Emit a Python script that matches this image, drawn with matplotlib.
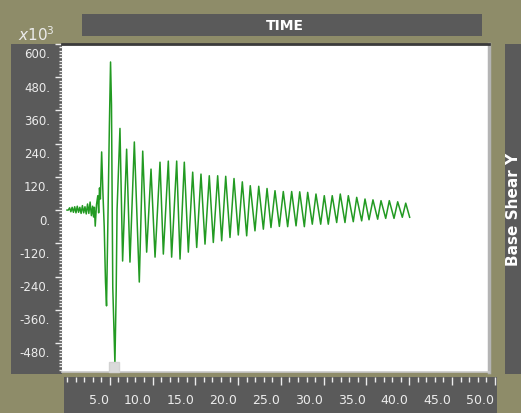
import matplotlib
matplotlib.use("Agg")
import matplotlib.pyplot as plt
from matplotlib.patches import Rectangle
from matplotlib.transforms import offset_copy
import numpy as np

# Base shear Y time history: turning points of the trace (time in s, shear in x10^3)
# each row of time_s lines up with the same row of shear
time_s = [0.0, 0.15, 0.3, 0.45, 0.6, 0.75, 0.9, 1.05, 1.2, 1.35, 1.5, 1.65,
          1.8, 1.95, 2.1, 2.25, 2.4, 2.55, 2.7, 2.85, 3.0, 3.1, 3.2, 3.3,
          3.45, 3.6, 3.7, 3.8, 3.9,
          4.05, 4.2, 4.35, 4.5, 4.62, 4.8, 4.95, 5.09, 5.2, 5.35, 5.6, 5.75, 5.85,
          6.19, 6.50, 6.97, 7.36, 7.87, 8.45, 8.85, 9.31, 9.82, 10.29,
          10.87, 11.26, 11.84, 12.23, 12.82, 13.21, 13.71, 14.18, 14.69, 15.16,
          15.66, 16.13, 16.63, 17.10, 17.61, 18.08, 18.55, 19.05, 19.52, 20.02,
          20.49, 21.00, 21.42, 21.97, 22.41, 22.95, 23.38, 23.84, 24.31, 24.82,
          25.28, 25.79, 26.26, 26.77, 27.20, 27.74, 28.13, 28.67, 29.10, 29.65,
          30.07, 30.54, 31.00, 31.52, 31.94, 32.49, 32.88, 33.46, 33.86, 34.44,
          34.83, 35.30, 35.76, 36.31, 36.70, 37.25, 37.67, 38.22, 38.65, 39.19,
          39.59, 40.05]
shear = [0, 0, 8, -6, 10, -8, 12, -10, 14, -8, 10, -12,
         16, -10, 12, -14, 22, -12, 29, -20, 14, -25, 10, -58,
         20, 52, -10, 80, 40,
         210, 60, -60, -260, -346, 0, 300, 535, 380, -280, -555, -290, 0,
         295, -184, 220, -188, 246, -260, 213, -152, 148, -170,
         173, -159, 177, -170, 177, -177, 173, -152, 137, -135,
         130, -123, 124, -117, 124, -111, 122, -99, 114, -90,
         102, -93, 88, -75, 86, -69, 78, -63, 70, -59,
         67, -60, 67, -57, 66, -60, 64, -51, 58, -51,
         52, -51, 52, -45, 58, -45, 52, -42, 46, -39,
         40, -35, 37, -33, 34, -30, 34, -30, 30, -26,
         25, -26]

# cursor marker at the peak negative response
cursor_t = 5.45
cursor_v = -567

y_ticks = [600, 480, 360, 240, 120, 0, -120, -240, -360, -480]
y_labels = ["600.", "480.", "360.", "240.", "120.", "0.", "-120.", "-240.", "-360.", "-480."]
x_ticks = [5, 10, 15, 20, 25, 30, 35, 40, 45, 50]
x_labels = ["5.0", "10.0", "15.0", "20.0", "25.0", "30.0", "35.0", "40.0", "45.0", "50.0"]

W, H = 521, 414
OLIVE = "#8e8c69"
PANEL = "#5a5a5a"
LIGHT = "#ececec"
GREEN = "#229a22"


def rect(x0, y0, x1, y1):
    # pixel box (top-left origin) -> figure fraction [left, bottom, width, height]
    return [x0 / W, 1 - y1 / H, (x1 - x0) / W, (y1 - y0) / H]


fig = plt.figure(figsize=(W / 100, H / 100), dpi=100)
fig.patch.set_facecolor(OLIVE)

# dark panels: title bar, y label strip, right label strip
for x0, y0, x1, y1 in [(82, 15, 482, 37), (11, 45, 62, 375), (505, 45, 521, 375)]:
    l, b, w, h = rect(x0, y0, x1, y1)
    fig.patches.append(Rectangle((l, b), w, h, transform=fig.transFigure,
                                 facecolor=PANEL, edgecolor="none", zorder=-5))

fig.text(285 / W, 1 - 26 / H, "TIME", color="white", fontsize=10,
         fontweight="bold", ha="center", va="center")
fig.text(513 / W, 1 - 209 / H, "Base Shear Y", color="white", fontsize=11,
         fontweight="bold", rotation=90, ha="center", va="center")
fig.text(18 / W, 1 - 41 / H, r"$\mathit{x10^{3}}$", color=LIGHT, fontsize=11,
         ha="left", va="baseline", math_fontfamily="dejavusans")

# main plot area
ax = fig.add_axes(rect(62, 45, 489, 373))
ax.set_facecolor("white")
ax.plot(time_s, shear, color=GREEN, lw=1.1)
ax.plot([cursor_t], [cursor_v], marker="s", ms=7.5, color="#dadada", mec="#d2d2d2",
        clip_on=False, zorder=5)
ax.set_xlim((62 - 67) / 8.556, (489 - 67) / 8.556)
ax.set_ylim(-585, 600)

ax.spines["top"].set_color("#3a3a3a")
ax.spines["top"].set_linewidth(2)
ax.spines["right"].set_color("#b4b4b4")
ax.spines["right"].set_linewidth(2.5)
ax.spines["bottom"].set_color("#c8c8c8")
ax.spines["bottom"].set_linewidth(1.2)
ax.spines["left"].set_visible(False)

ax.set_xticks([])
ax.set_yticks(y_ticks)
ax.set_yticks(np.arange(-576, 601, 12), minor=True)
ax.set_yticklabels([])
ax.tick_params(axis="y", which="major", direction="out", length=5, width=1, color=LIGHT)
ax.tick_params(axis="y", which="minor", direction="out", length=2.5, width=1, color=LIGHT)

ylab_tf = offset_copy(ax.get_yaxis_transform(), fig, x=-12, y=-10, units="dots")
for v, s in zip(y_ticks, y_labels):
    ax.text(0, v, s, transform=ylab_tf, ha="right", va="center",
            color=LIGHT, fontsize=8.5)

# time axis strip
xp = fig.add_axes(rect(64, 378, 497, 414))
xp.set_facecolor(PANEL)
for sp in xp.spines.values():
    sp.set_visible(False)
xp.set_xlim((64 - 67) / 8.556, (497 - 67) / 8.556)
xp.set_ylim(0, 1)
xp.set_yticks([])
xp.xaxis.tick_top()
xp.set_xticks(x_ticks)
xp.set_xticks(np.arange(0, 51, 1), minor=True)
xp.set_xticklabels([])
xp.tick_params(axis="x", which="major", direction="in", length=6, width=1, color=LIGHT)
xp.tick_params(axis="x", which="minor", direction="in", length=3.5, width=1, color=LIGHT)

xlab_tf = offset_copy(xp.get_xaxis_transform(), fig, x=-1, y=0, units="dots")
for v, s in zip(x_ticks, x_labels):
    xp.text(v, 0.38, s, transform=xlab_tf, ha="right", va="center",
            color=LIGHT, fontsize=9)

plt.savefig("out.png", dpi=100, facecolor=fig.get_facecolor())
